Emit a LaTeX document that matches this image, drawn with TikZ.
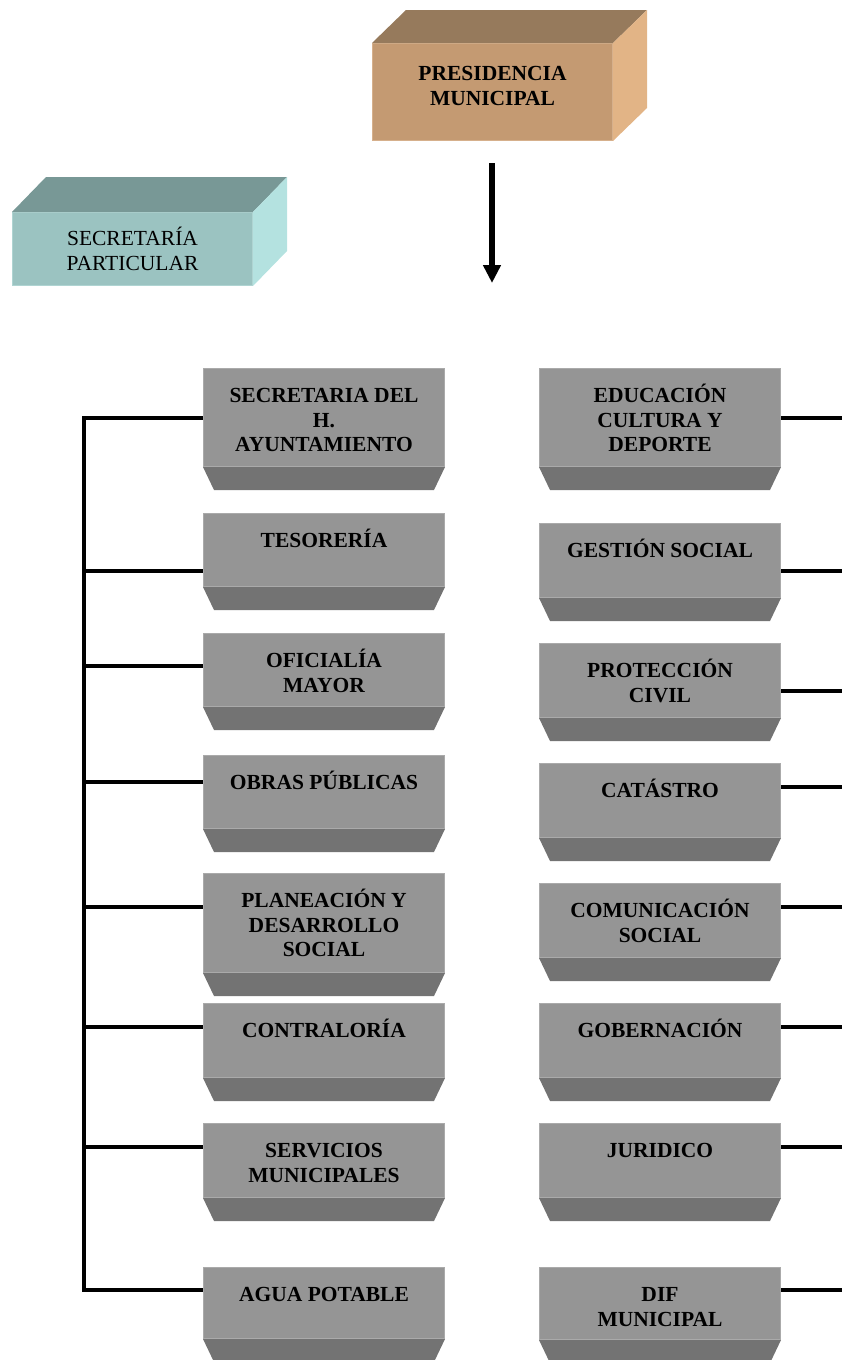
\documentclass[tikz,border=0pt]{standalone}
\usepackage{fontspec}
\setmainfont{Liberation Serif}
\usetikzlibrary{arrows.meta}

\definecolor{tanfront}{RGB}{196,154,114}
\definecolor{tantop}{RGB}{150,122,92}
\definecolor{tanside}{RGB}{226,180,134}
\definecolor{tanedge}{RGB}{214,176,140}
\definecolor{tealfront}{RGB}{155,195,193}
\definecolor{tealtop}{RGB}{120,152,150}
\definecolor{tealside}{RGB}{180,226,224}
\definecolor{tealedge}{RGB}{175,212,210}
\definecolor{boxgray}{RGB}{149,149,149}
\definecolor{boxedge}{RGB}{170,170,170}
\definecolor{boxshade}{RGB}{115,115,115}

% one department: face node, bevelled base below it, label near the top
\newcommand{\unitbox}[5]{%
  \node[deptface, minimum height=#4*0.5pt] (#1) at (#2,#3) {};
  \fill[deptbase] (#1.south west) -- (#1.south east)
    -- ([shift={(-11,23)}]#1.south east) -- ([shift={(11,23)}]#1.south west) -- cycle;
  \node[deptlabel] (#1-text) at ([yshift=-6pt]#1.north) {\rule{0pt}{11pt}#5};
}

\begin{document}
\begin{tikzpicture}[x=0.5pt, y=-0.5pt,
  deptface/.style={rectangle, fill=boxgray, draw=boxedge, line width=0.5pt,
    minimum width=120.5pt, inner sep=0pt, anchor=north west},
  deptbase/.style={fill=boxshade},
  deptlabel/.style={align=center, inner sep=0pt, anchor=north,
    font=\fontsize{10.75pt}{12.35pt}\selectfont\bfseries},
  headface/.style={rectangle, inner sep=0pt, line width=0.5pt,
    minimum width=120pt, anchor=north west},
  wire/.style={line width=2.25pt, line join=miter},
]
\useasboundingbox (0,0) rectangle (841,1360);

% ---- Presidencia Municipal (3D block)
\node[headface, fill=tanfront, draw=tanedge, minimum height=48.5pt] (pres) at (372,43) {};
\fill[tantop] (pres.north west) -- ([shift={(34,-33)}]pres.north west)
  -- ([shift={(34,-33)}]pres.north east) -- (pres.north east) -- cycle;
\fill[tanside] (pres.north east) -- ([shift={(34,-33)}]pres.north east)
  -- ([shift={(34,-33)}]pres.south east) -- (pres.south east) -- cycle;
\node[deptlabel] (pres-text) at ([yshift=-7.5pt]pres.north)
  {\rule{0pt}{11pt}PRESIDENCIA\\MUNICIPAL};

% ---- Secretaría Particular (3D block)
\node[headface, fill=tealfront, draw=tealedge, minimum height=36.5pt] (secp) at (12,212) {};
\fill[tealtop] (secp.north west) -- ([shift={(34,-35)}]secp.north west)
  -- ([shift={(34,-35)}]secp.north east) -- (secp.north east) -- cycle;
\fill[tealside] (secp.north east) -- ([shift={(34,-35)}]secp.north east)
  -- ([shift={(34,-35)}]secp.south east) -- (secp.south east) -- cycle;
\node[deptlabel, font=\fontsize{10.75pt}{12.35pt}\selectfont] (secp-text)
  at ([yshift=-5.5pt]secp.north) {\rule{0pt}{11pt}SECRETARÍA\\PARTICULAR};

% ---- downward arrow
\coordinate (arrowtop) at (492,163);
\coordinate (arrowtip) at (492,283);
\draw[line width=3pt, -{Triangle[length=9pt, width=8.5pt]}] (arrowtop) -- (arrowtip);

% ---- left column
\unitbox{s1}{203}{368}{98}{SECRETARIA DEL\\H.\\AYUNTAMIENTO}
\unitbox{s2}{203}{513}{73}{TESORERÍA}
\unitbox{s3}{203}{633}{73}{OFICIALÍA\\MAYOR}
\unitbox{s4}{203}{755}{73}{OBRAS PÚBLICAS}
\unitbox{s5}{203}{873}{99}{PLANEACIÓN Y\\DESARROLLO\\SOCIAL}
\unitbox{s6}{203}{1003}{74}{CONTRALORÍA}
\unitbox{s7}{203}{1123}{74}{SERVICIOS\\MUNICIPALES}
\unitbox{s8}{203}{1267}{71}{AGUA POTABLE}

% ---- right column
\unitbox{r1}{539}{368}{98}{EDUCACIÓN\\CULTURA Y\\DEPORTE}
\unitbox{r2}{539}{523}{74}{GESTIÓN SOCIAL}
\unitbox{r3}{539}{643}{74}{PROTECCIÓN\\CIVIL}
\unitbox{r4}{539}{763}{74}{CATÁSTRO}
\unitbox{r5}{539}{883}{74}{COMUNICACIÓN\\SOCIAL}
\unitbox{r6}{539}{1003}{74}{GOBERNACIÓN}
\unitbox{r7}{539}{1123}{74}{JURIDICO}
\unitbox{r8}{539}{1267}{72}{DIF\\MUNICIPAL}

% ---- left trunk and branches
\coordinate (L1) at (84,418);
\coordinate (L2) at (84,571);
\coordinate (L3) at (84,666);
\coordinate (L4) at (84,782);
\coordinate (L5) at (84,907);
\coordinate (L6) at (84,1027);
\coordinate (L7) at (84,1147);
\coordinate (L8) at (84,1290);
\draw[wire] (L1 -| s1.west) -- (L1) -- (L8) -- (L8 -| s8.west);
\foreach \k in {2,...,7} { \draw[wire] (L\k) -- (L\k -| s\k.west); }

% ---- right branches, running off the right edge
\coordinate (R1) at (846,418);
\coordinate (R2) at (846,571);
\coordinate (R3) at (846,691);
\coordinate (R4) at (846,787);
\coordinate (R5) at (846,907);
\coordinate (R6) at (846,1027);
\coordinate (R7) at (846,1147);
\coordinate (R8) at (846,1290);
\foreach \k in {1,...,8} { \draw[wire] (R\k -| r\k.east) -- (R\k); }
\end{tikzpicture}
\end{document}
